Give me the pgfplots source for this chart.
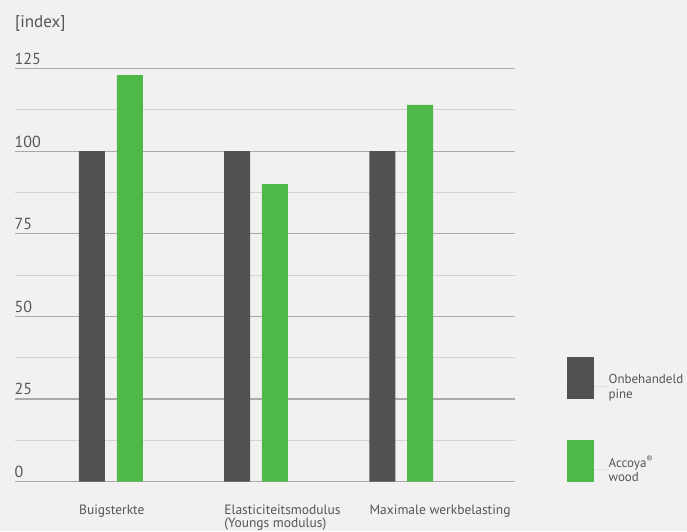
\documentclass[border=0pt]{standalone}
\usepackage{pgfplots}
\pgfplotsset{compat=1.18}
\usepackage{fontspec}
\setmainfont{PT Sans}
\definecolor{bg}{RGB}{243,240,241}
\definecolor{darkbar}{RGB}{80,81,82}
\definecolor{greenbar}{RGB}{78,185,72}
\definecolor{txt}{RGB}{85,85,85}
\definecolor{gridmajor}{RGB}{170,170,170}
\definecolor{gridminor}{RGB}{212,210,211}
\begin{document}
\begin{tikzpicture}
\fill[bg] (0,0) rectangle (687pt,531pt);
\begin{axis}[
 at={(15.5pt,49.5pt)}, anchor=south west,
 scale only axis, width=499.5pt, height=413pt,
 xmin=0.3433, xmax=3.7834, ymin=0, ymax=125,
 axis line style={draw=none}, tick style={draw=none},
 xtick={1,2,3},
 xticklabels={Buigsterkte,{Elasticiteitsmodulus\\(Youngs modulus)},Maximale werkbelasting},
 xticklabel style={anchor=north west, align=left, xshift=-31.9pt, yshift=-18.5pt, font=\fontsize{13.5}{13}\selectfont, text=txt, inner sep=0pt},
 ytick={0,25,50,75,100,125},
 minor ytick={12.5,37.5,62.5,87.5,112.5},
 ymajorgrids, yminorgrids,
 major grid style={draw=gridmajor, line width=1.2pt},
 minor grid style={draw=gridminor, line width=0.9pt},
 yticklabel style={anchor=base west, inner sep=0pt, xshift=-1pt, yshift=4pt, font=\fontsize{16}{19}\selectfont, text=txt},
 /pgf/number format/assume math mode=true,
 title={{[}index{]}},
 title style={at={(axis description cs:0,1)}, anchor=base west, inner sep=0pt, xshift=-0.5pt, yshift=34.5pt, font=\fontsize{17}{20}\selectfont, text=txt},
 ybar, bar width=26pt,
 legend cell align=left,
 legend style={at={(axis description cs:1.1035,0.302)}, anchor=north west, draw=none, fill=none, inner sep=0pt, row sep=40pt,
   nodes={inner sep=0pt, align=left, font=\fontsize{13}{14.5}\selectfont, text=txt}},
 legend image code/.code={\fill[#1,draw=none] (0pt,-12pt) rectangle (26.7pt,30pt); \path (0pt,0pt) -- (41.7pt,0pt);},
]
\addplot[fill=darkbar, draw=none, bar shift=-18.9pt] coordinates {(1,100) (2,100) (3,100)};
\addplot[fill=greenbar, draw=none, bar shift=18.9pt] coordinates {(1,123) (2,90) (3,114)};
\legend{{Onbehandeld\\pine},{Accoya\textsuperscript{®}\\wood}}
\end{axis}
\pgfresetboundingbox
\useasboundingbox (0,0) rectangle (687pt,531pt);
\end{tikzpicture}
\end{document}
